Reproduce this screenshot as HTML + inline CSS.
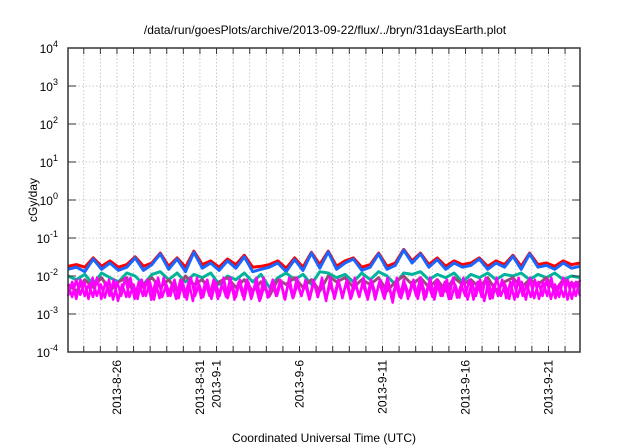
<!DOCTYPE html>
<html><head><meta charset="utf-8"><style>
html,body{margin:0;padding:0;background:#fff;}
svg{display:block;font-family:"Liberation Sans",sans-serif;}
</style></head><body>
<svg id="chart" width="640" height="448" viewBox="0 0 640 448">
<text x="325" y="34" font-size="12" text-anchor="middle">/data/run/goesPlots/archive/2013-09-22/flux/../bryn/31daysEarth.plot</text>
<text transform="translate(37,200) rotate(-90)" font-size="12" text-anchor="middle">cGy/day</text>
<text x="324" y="442" font-size="12" text-anchor="middle">Coordinated Universal Time (UTC)</text>
<g id="grid"></g><g id="series"></g><g id="axes"></g>
</svg>
<script>
const yTickExps=[-4,-3,-2,-1,0,1,2,3,4];
const xTickDays=[3,8,9,14,19,24,29];
const xTickLabels=["2013-8-26","2013-8-31","2013-9-1","2013-9-6","2013-9-11","2013-9-16","2013-9-21"];
const seriesColors=["#ff0000","#1a66ff","#00b39a","#9a4a7a","#ff00ff","#ff00ff"];
const redVals=[.018,.02,.017,.03,.018,.025,.017,.02,.032,.018,.022,.04,.018,.03,.017,.045,.02,.025,.017,.028,.02,.035,.017,.018,.02,.025,.016,.03,.017,.042,.02,.045,.018,.025,.03,.017,.02,.04,.018,.022,.05,.025,.04,.02,.03,.018,.025,.02,.022,.03,.018,.025,.02,.035,.018,.04,.02,.022,.018,.025,.02,.022];
const blueVals=[.015,.017,.013,.028,.015,.022,.014,.017,.03,.014,.02,.038,.015,.028,.013,.042,.016,.022,.014,.025,.016,.032,.013,.015,.017,.022,.013,.027,.014,.04,.016,.043,.015,.022,.028,.014,.017,.038,.015,.019,.048,.022,.038,.017,.027,.015,.022,.017,.019,.028,.015,.022,.017,.033,.015,.038,.017,.019,.015,.022,.016,.018];
const tealVals=[.01,.008,.011,.006,.012,.009,.007,.012,.01,.006,.011,.013,.008,.012,.007,.011,.009,.012,.006,.01,.008,.012,.007,.011,.005,.009,.012,.008,.011,.006,.013,.012,.009,.011,.007,.012,.008,.013,.01,.006,.012,.011,.013,.008,.011,.009,.012,.007,.011,.009,.012,.008,.011,.01,.012,.008,.011,.009,.012,.008,.01,.009];
const purpleVals=[.006,.004,.008,.005,.009,.004,.007,.009,.003,.006,.009,.005,.008,.004,.01,.006,.008,.004,.007,.009,.005,.008,.004,.007,.003,.008,.006,.009,.005,.008,.004,.01,.007,.009,.005,.008,.006,.009,.004,.007,.01,.006,.009,.005,.008,.004,.009,.006,.008,.005,.009,.004,.007,.009,.005,.008,.006,.009,.004,.008,.006,.007];
const magentaVals=[.003,.007,.0025,.008,.003,.006,.0028,.009,.0025,.007,.003,.008,.0022,.006,.0028,.009,.0025,.007,.003,.008,.0024,.007,.0026,.009,.003,.006,.0025,.008,.0028,.007,.0022,.009,.0026,.007,.003,.008,.0025,.006,.0028,.009,.0024,.007,.003,.008,.0025,.006,.0022,.009,.0027,.007,.003,.008,.0025,.007,.0026,.009,.003,.006,.0024,.008,.0028,.007,.0022,.009,.0025,.007,.003,.008,.0026,.006,.0028,.009,.0024,.007,.003,.008,.0025,.007,.002,.009,.0026,.006,.003,.008,.0025,.007,.0028,.009,.0024,.007,.003,.008,.0025,.006,.0027,.009,.0024,.007,.003,.008,.0022,.007,.0026,.009,.003,.006,.0025,.008,.0028,.007,.0024,.009,.0026,.007,.003,.008,.0025,.006,.0028,.009,.0024,.007,.003,.008];
const magenta2Vals=[.006,.0028,.008,.0032,.007,.0025,.009,.003,.006,.0027,.008,.0024,.007,.003,.009,.0028,.006,.0025,.008,.003,.007,.0024,.009,.0028,.006,.003,.008,.0026,.007,.0024,.009,.003,.006,.0028,.008,.0025,.007,.003,.009,.0026,.006,.0028,.008,.0024,.007,.003,.009,.0025,.006,.0028,.008,.003,.007,.0024,.009,.0027,.006,.003,.008,.0025,.007,.0028,.009,.0024,.006,.003,.008,.0026,.007,.0025,.009,.003,.006,.0028,.008,.0024,.007,.003,.009,.0026,.006,.0028,.008,.0025,.007,.003,.009,.0024,.006,.0028,.008,.003,.007,.0025,.009,.0027,.006,.003,.008,.0024,.007,.0028,.009,.0025,.006,.003,.008,.0026,.007,.0024,.009,.003,.006,.0028,.008,.0025,.007,.003,.009,.0026,.006,.0028,.008,.0025,.007,.003];
const allSeries=[redVals,blueVals,tealVals,purpleVals,magentaVals,magenta2Vals];
const L=68,R=580,T=48,B=352,D0=0.05,D1=30.9;
const NS="http://www.w3.org/2000/svg";
function xs(d){return L+(d-D0)/(D1-D0)*(R-L);}
function ys(v){return B-(Math.log10(v)+4)/8*(B-T);}
function mk(tag,attrs,parent){const e=document.createElementNS(NS,tag);for(const k in attrs)e.setAttribute(k,attrs[k]);parent.appendChild(e);return e;}
const grid=document.getElementById('grid'),ser=document.getElementById('series'),ax=document.getElementById('axes');
for(let d=1;d<=30;d++){const x=xs(d);
 const g=mk('line',{x1:x,x2:x,y1:T,y2:B,stroke:'#bbb','stroke-width':0.8,'stroke-dasharray':'1.5,2'},grid);
 
 const t1=mk('line',{x1:x,x2:x,y1:B,y2:B-6,stroke:'#333','stroke-width':1},ax);
 
 const t2=mk('line',{x1:x,x2:x,y1:T,y2:T+6,stroke:'#333','stroke-width':1},ax);
 }
yTickExps.forEach(e=>{const y=ys(Math.pow(10,e));
 if(e>-4&&e<4){const g=mk('line',{x1:L,x2:R,y1:y,y2:y,stroke:'#bbb','stroke-width':0.8,'stroke-dasharray':'1.5,2'},grid);
 }
 const t=mk('line',{x1:L,x2:L+8,y1:y,y2:y,stroke:'#333'},ax);
 const t2=mk('line',{x1:R,x2:R-8,y1:y,y2:y,stroke:'#333'},ax);
 const lb=mk('text',{x:L-10,y:y+5,'font-size':12,'text-anchor':'end'},ax);
 
 lb.appendChild(document.createTextNode('10'));
 const sp=mk('tspan',{dy:-6,'font-size':9},lb);sp.textContent=String(e);});
xTickDays.forEach((d,i)=>{const x=xs(d);
 const lb=mk('text',{transform:`translate(${x+4},360) rotate(-90)`,'font-size':12,'text-anchor':'end'},ax);
 
 lb.textContent=xTickLabels[i];});
allSeries.forEach((vals,si)=>{const n=vals.length;
 const pts=vals.map((v,i)=>xs(D0+i*(D1-D0)/(n-1)).toFixed(1)+','+ys(v).toFixed(1)).join(' ');
 const p=mk('polyline',{points:pts,fill:'none',stroke:seriesColors[si],'stroke-width':si>=4?2.5:3,'stroke-linejoin':'round'},ser);
 });
const fr=mk('rect',{x:L,y:T,width:R-L,height:B-T,fill:'none',stroke:'#333','stroke-width':1.5},ax);

</script>
</body></html>
